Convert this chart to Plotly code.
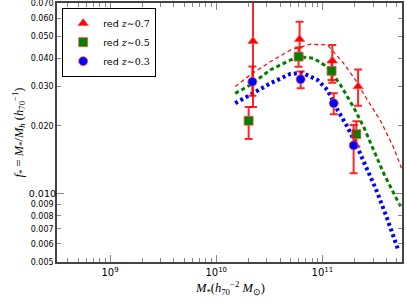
import numpy as np
import plotly.graph_objects as go

# ---------------- data ----------------
# observed points (stellar mass, f_*) with asymmetric errors
red07_x = [2.22e10, 6.1e10, 1.24e11, 2.17e11]
red07_y = [0.0475, 0.0485, 0.0389, 0.0299]
red07_hi = [0.093, 0.0579, 0.0457, 0.0356]
red07_lo = [0.0243, 0.0400, 0.0311, 0.0246]

red05_x = [2.02e10, 5.97e10, 1.22e11, 2.09e11]
red05_y = [0.0211, 0.0406, 0.0351, 0.0184]
red05_hi = [0.0243, 0.0445, 0.0385, 0.0210]
red05_lo = [0.0175, 0.0366, 0.0320, 0.0162]

red03_x = [2.19e10, 6.24e10, 1.28e11, 1.97e11]
red03_y = [0.0314, 0.0322, 0.0252, 0.0164]
red03_hi = [0.0367, 0.0349, 0.0279, 0.0202]
red03_lo = [0.0272, 0.0294, 0.02255, 0.01235]

# model curves (log10 M_*, f_*)
curve07_logx = [10.179, 10.321, 10.509, 10.698, 10.887, 11.047, 11.198, 11.311, 11.406, 11.547, 11.670, 11.745]
curve07_y = [0.0299, 0.0337, 0.0385, 0.0434, 0.0461, 0.0457, 0.0380, 0.0320, 0.0269, 0.0211, 0.0161, 0.0130]

curve05_logx = [10.179, 10.321, 10.509, 10.698, 10.792, 10.915, 11.047, 11.170, 11.292, 11.387, 11.481, 11.575, 11.670, 11.736]
curve05_y = [0.0279, 0.0304, 0.0354, 0.0392, 0.0405, 0.0399, 0.0366, 0.0304, 0.0243, 0.0199, 0.0157, 0.0124, 0.0101, 0.0088]

curve03_logx = [10.179, 10.321, 10.509, 10.698, 10.811, 10.953, 11.047, 11.142, 11.236, 11.330, 11.425, 11.519, 11.613, 11.717]
curve03_y = [0.0252, 0.0274, 0.0309, 0.0340, 0.0344, 0.0320, 0.0289, 0.0236, 0.0198, 0.0161, 0.0128, 0.0101, 0.0077, 0.0056]

legend_labels = ["0.7", "0.5", "0.3"]

y_ticks = [0.005, 0.006, 0.007, 0.008, 0.009, 0.02, 0.03, 0.04, 0.05, 0.06, 0.07]
y_major = [0.010]
x_major = [1e9, 1e10, 1e11]
x_major_text = ["10<sup>9</sup>", "10<sup>10</sup>", "10<sup>11</sup>"]
x_minor = [m * 10.0 ** e for e in (8, 9, 10, 11) for m in range(2, 10) if 10 ** 8.5 < m * 10.0 ** e < 10 ** 11.75]

# ---------------- figure ----------------
ERR = "rgba(255,0,0,0.85)"
fig = go.Figure()

def errs(y, hi, lo):
    return ([h - v for h, v in zip(hi, y)], [v - l for v, l in zip(y, lo)])

def leg(z):
    return "red <span style='font-family:DejaVu Serif'><i>z</i>\u223c" + z + "</span>"

# curves
fig.add_trace(go.Scatter(x=[10 ** v for v in curve07_logx], y=curve07_y, mode="lines",
                         line=dict(color="red", width=1.2, dash="4px,3px"), showlegend=False))
fig.add_trace(go.Scatter(x=[10 ** v for v in curve05_logx], y=curve05_y, mode="lines",
                         line=dict(color="green", width=3, dash="4px,3px"), showlegend=False))
fig.add_trace(go.Scatter(x=[10 ** v for v in curve03_logx], y=curve03_y, mode="lines",
                         line=dict(color="blue", width=4, dash="3px,3px"), showlegend=False))

for xs, ys, hi, lo, sym, col, lab, rank in [
    (red07_x, red07_y, red07_hi, red07_lo, "triangle-up", "red", legend_labels[0], 1),
    (red05_x, red05_y, red05_hi, red05_lo, "square", "green", legend_labels[1], 2),
    (red03_x, red03_y, red03_hi, red03_lo, "circle", "blue", legend_labels[2], 3),
]:
    ep, em = errs(ys, hi, lo)
    fig.add_trace(go.Scatter(
        x=xs, y=ys, mode="markers", name=leg(lab), legendrank=rank,
        marker=dict(symbol=sym, color=col, size=9, line=dict(color="rgba(255,80,80,0.8)", width=1)),
        error_y=dict(type="data", symmetric=False, array=ep, arrayminus=em,
                     color=ERR, thickness=2, width=4),
    ))

YR = [np.log10(0.005) - 0.001, np.log10(0.07) + 0.001]

fig.update_layout(
    width=407, height=305,
    margin=dict(l=57, r=5, t=3, b=43, autoexpand=False),
    paper_bgcolor="white", plot_bgcolor="white",
    font=dict(family="DejaVu Sans", size=9, color="black"),
    showlegend=True,
    legend=dict(x=0.015, y=0.982, xanchor="left", yanchor="top",
                bgcolor="white", bordercolor="black", borderwidth=1,
                font=dict(family="DejaVu Sans", size=9.5), tracegroupgap=0,
                itemwidth=30),
    xaxis=dict(type="log", range=[8.5, 11.75], showgrid=False, zeroline=False, automargin=False,
               showline=True, linecolor="#444", linewidth=1.5, mirror="ticks",
               ticks="inside", ticklen=7, tickcolor="#888", tickwidth=1,
               tickmode="array", tickvals=x_major, ticktext=x_major_text,
               tickfont=dict(size=10),
               minor=dict(tickmode="array", tickvals=x_minor, ticks="inside",
                          ticklen=4, tickcolor="#888", tickwidth=1)),
    yaxis=dict(type="log", range=YR, showgrid=False, zeroline=False,
               automargin=False, ticklabeloverflow="allow",
               showline=True, linecolor="#444", linewidth=1.5, mirror="ticks",
               ticks="inside", ticklen=4, tickcolor="#888", tickwidth=1,
               tickmode="array", tickvals=y_ticks, ticktext=["%.3f" % v for v in y_ticks],
               tickfont=dict(size=8)),
    yaxis2=dict(type="log", range=YR, overlaying="y",
                automargin=False, ticklabeloverflow="allow",
                showgrid=False, zeroline=False, showline=False, mirror="ticks",
                ticks="inside", ticklen=7, tickcolor="#888", tickwidth=1,
                tickmode="array", tickvals=y_major, ticktext=["%.3f" % v for v in y_major],
                tickfont=dict(size=9.5), side="left"),
)

# dummy trace to activate yaxis2
fig.add_trace(go.Scatter(x=[1e10], y=[0.01], yaxis="y2", mode="markers",
                         marker=dict(opacity=0), showlegend=False, hoverinfo="skip"))

fig.add_annotation(text="<i>M</i><sub>*</sub>(<i>h</i><sub>70</sub><sup>\u22122</sup> <i>M</i><sub>\u2299</sub>)",
                   xref="paper", yref="paper", x=0.5, y=-0.1, xanchor="center", yanchor="middle",
                   showarrow=False, font=dict(family="Liberation Serif", size=12.5))
fig.add_annotation(text="<i>f</i><sub>*</sub> = <i>M</i><sub>*</sub>/<i>M</i><sub><i>h</i></sub> (<i>h</i><sub>70</sub><sup>\u22121</sup>)",
                   xref="paper", yref="paper", x=-0.113, y=0.5, xanchor="center", yanchor="middle",
                   textangle=-90, showarrow=False, font=dict(family="Liberation Serif", size=12.5))

fig.write_html("out.html", config={"displayModeBar": False},
               post_script="document.body.style.margin='0';document.body.style.overflow='hidden';")
